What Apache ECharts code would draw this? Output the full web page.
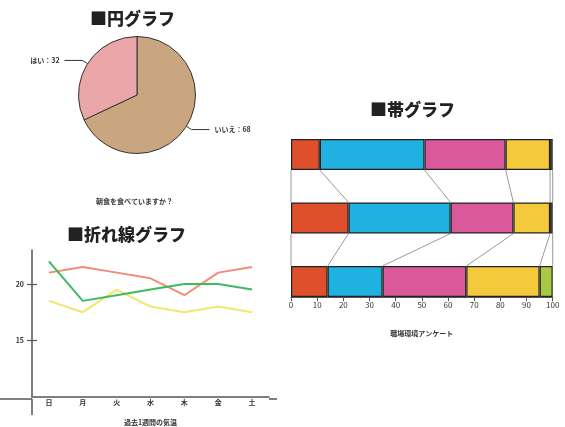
<!DOCTYPE html>
<html>
<head>
<meta charset="utf-8">
<script src="https://cdn.jsdelivr.net/npm/echarts@6/dist/echarts.min.js"></script>
<style>
  html, body { margin: 0; padding: 0; background: #fff; }
  #main { width: 565px; height: 427px; }
</style>
</head>
<body>
<div id="main"></div>
<script>
// 円グラフ
const pieNames = ["いいえ", "はい"];
const pieValues = [68, 32];
const pieColors = ["#c9a680", "#eba6a9"];

// 折れ線グラフ
const days = ["日", "月", "火", "水", "木", "金", "土"];
const redLine = [21, 21.5, 21, 20.5, 19, 21, 21.5];
const greenLine = [22, 18.5, 19, 19.5, 20, 20, 19.5];
const yellowLine = [18.5, 17.5, 19.5, 18, 17.5, 18, 17.5];
const lineTicks = [15, 20];

// 帯グラフ
const bandRows = ["1", "2", "3"];
const bandNames = ["A", "B", "C", "D", "E"];
const bandA = [11, 22, 14];
const bandB = [40, 39, 21];
const bandC = [31, 24, 32];
const bandD = [17, 14, 28];
const bandE = [1, 1, 5];
const bandColors = ["#e04f2b", "#1fb1df", "#d9599a", "#f4c93c", "#a9c944"];
const bandTicks = [0, 10, 20, 30, 40, 50, 60, 70, 80, 90, 100];

const FONT = "'Noto Sans CJK JP', sans-serif";
const smallText = { fontSize: 7, fontWeight: "bold", color: "#333", fontFamily: FONT };

// 区切り線（各帯の累積値をつなぐ）
const segs = [bandA, bandB, bandC, bandD, bandE];
const cum = bandRows.map((r, i) => {
  let s = 0;
  const out = [0];
  segs.forEach(arr => { s += arr[i]; out.push(s); });
  return out;
});
const connectors = [];
for (let i = 0; i < bandRows.length - 1; i++) {
  cum[i].forEach((v, k) => connectors.push([v, i, cum[i + 1][k], i + 1]));
}

// line grid layout
const lg = { left: 32, top: 250, right: 296, bottom: 28 };

const chart = echarts.init(document.getElementById("main"));

let option = {
  animation: false,
  textStyle: { fontFamily: FONT },
  title: [
    { text: "■円グラフ", left: 90, top: 10, padding: 0,
      textStyle: { fontSize: 17, fontWeight: 900, color: "#222", fontFamily: FONT } },
    { text: "■折れ線グラフ", left: 67, top: 226, padding: 0,
      textStyle: { fontSize: 17, fontWeight: 900, color: "#222", fontFamily: FONT } },
    { text: "■帯グラフ", left: 370, top: 101, padding: 0,
      textStyle: { fontSize: 17, fontWeight: 900, color: "#222", fontFamily: FONT } },
    { text: "朝食を食べていますか？", left: 96, top: 198, padding: 0, textStyle: smallText }
  ],
  grid: [
    { left: lg.left, top: lg.top, right: lg.right, bottom: lg.bottom },
    { left: 291, top: 122.75, right: 12.3, bottom: 113.75 }
  ],
  xAxis: [
    {
      gridIndex: 0,
      type: "category",
      data: days,
      boundaryGap: true,
      axisLine: { lineStyle: { color: "#555", width: 1.5 } },
      axisTick: { show: false },
      axisLabel: Object.assign({ margin: 2 }, smallText),
      name: "過去1週間の気温",
      nameLocation: "middle",
      nameGap: 22,
      nameTextStyle: smallText
    },
    {
      gridIndex: 1,
      type: "value",
      min: 0,
      max: 100,
      interval: 10,
      offset: -16,
      splitLine: { show: false },
      axisLine: { show: true, lineStyle: { color: "#555", width: 1 } },
      axisTick: { show: true, length: 4, lineStyle: { color: "#555" } },
      axisLabel: { fontSize: 8, color: "#333", margin: 4 },
      name: "職場環境アンケート",
      nameLocation: "middle",
      nameGap: 33,
      nameTextStyle: smallText
    }
  ],
  yAxis: [
    {
      gridIndex: 0,
      type: "value",
      min: 10,
      max: 23,
      interval: 5,
      splitLine: { show: false },
      axisLine: { show: true, lineStyle: { color: "#555", width: 1.5 } },
      axisTick: { show: true, length: 5, customValues: lineTicks, lineStyle: { color: "#555", width: 1.2 } },
      axisLabel: Object.assign({ margin: 8, customValues: lineTicks }, smallText)
    },
    {
      gridIndex: 1,
      type: "category",
      data: bandRows,
      inverse: true,
      axisLine: { show: false },
      axisTick: { show: false },
      axisLabel: { show: false }
    },
    {
      // 内向きの目盛
      gridIndex: 0,
      type: "value",
      position: "left",
      min: 10,
      max: 23,
      interval: 5,
      splitLine: { show: false },
      axisLine: { show: false },
      axisTick: { show: true, inside: true, length: 5, customValues: lineTicks, lineStyle: { color: "#555", width: 1.2 } },
      axisLabel: { show: false }
    }
  ],
  graphic: [
    // 軸線の延長
    { type: "line", silent: true,
      shape: { x1: 0, y1: 427 - lg.bottom, x2: lg.left, y2: 427 - lg.bottom },
      style: { stroke: "#555", lineWidth: 1.5 } },
    { type: "line", silent: true,
      shape: { x1: 565 - lg.right, y1: 427 - lg.bottom, x2: 565 - lg.right + 8, y2: 427 - lg.bottom },
      style: { stroke: "#555", lineWidth: 1.5 } },
    { type: "line", silent: true,
      shape: { x1: lg.left, y1: 427 - lg.bottom, x2: lg.left, y2: 427 - lg.bottom + 16 },
      style: { stroke: "#555", lineWidth: 1.5 } }
  ],
  series: [
    {
      type: "pie",
      center: [137, 95],
      radius: 58.5,
      startAngle: 90,
      clockwise: true,
      data: pieNames.map((n, i) => ({ name: n, value: pieValues[i], itemStyle: { color: pieColors[i] } })),
      itemStyle: { borderColor: "#333", borderWidth: 1 },
      label: Object.assign({ formatter: "{b}：{c}" }, smallText),
      labelLine: { length: 6, length2: 18, lineStyle: { color: "#333", width: 1 } },
      emphasis: { disabled: true }
    },
    {
      name: "赤", type: "line", xAxisIndex: 0, yAxisIndex: 0,
      data: redLine, symbol: "none",
      lineStyle: { color: "#f28c74", width: 2 }, itemStyle: { color: "#f28c74" }
    },
    {
      name: "黄", type: "line", xAxisIndex: 0, yAxisIndex: 0,
      data: yellowLine, symbol: "none",
      lineStyle: { color: "#f1e76c", width: 2 }, itemStyle: { color: "#f1e76c" }
    },
    {
      name: "緑", type: "line", xAxisIndex: 0, yAxisIndex: 0,
      data: greenLine, symbol: "none",
      lineStyle: { color: "#3dbb5f", width: 2 }, itemStyle: { color: "#3dbb5f" }
    },
    {
      type: "custom",
      xAxisIndex: 1,
      yAxisIndex: 1,
      encode: { x: [0, 2], y: [1, 3] },
      data: connectors,
      silent: true,
      z: 1,
      renderItem: function (params, api) {
        const a = api.coord([api.value(0), api.value(1)]);
        const b = api.coord([api.value(2), api.value(3)]);
        const half = 15.5;
        return {
          type: "line",
          shape: { x1: a[0], y1: a[1] + half, x2: b[0], y2: b[1] - half },
          style: { stroke: "#999", lineWidth: 1 }
        };
      }
    }
  ].concat(segs.map((arr, k) => ({
    name: bandNames[k],
    type: "bar",
    stack: "band",
    xAxisIndex: 1,
    yAxisIndex: 1,
    barWidth: 31,
    data: arr,
    z: 2,
    itemStyle: { color: bandColors[k], borderColor: "#222", borderWidth: 1.2 },
    emphasis: { disabled: true }
  })))
};

chart.setOption(option);
</script>
</body>
</html>
